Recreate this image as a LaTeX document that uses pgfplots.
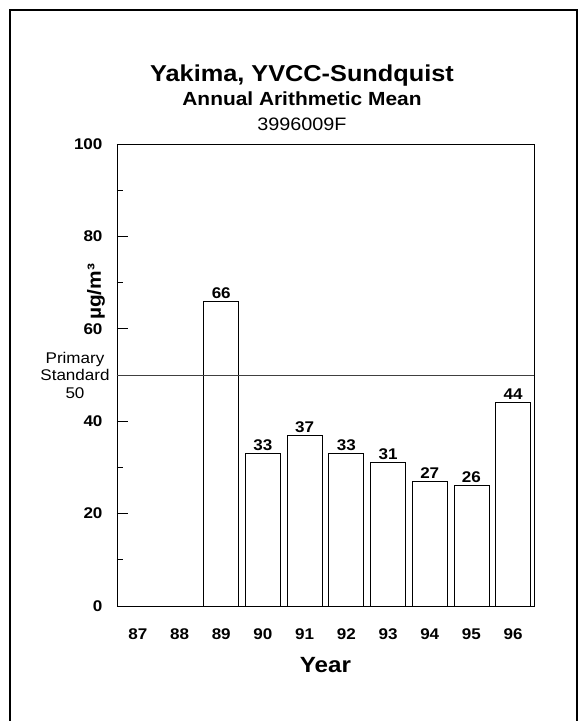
\documentclass[border=0pt]{standalone}
\usepackage{fontspec}
\setmainfont{Liberation Sans}[FakeStretch=1.1]
\usepackage{pgfplots}
\pgfplotsset{compat=1.18}

\newcommand{\fs}[1]{\fontsize{#1}{#1}\selectfont}

\begin{document}
\begin{tikzpicture}[x=1pt,y=1pt]
\useasboundingbox (0,0) rectangle (585,721);
% outer frame, open at the bottom
\draw[line width=2pt] (10,0) -- (10,711) -- (577,711) -- (577,0);

% titles
\node[anchor=base] at (302,639) {\fs{23}\bfseries Yakima, YVCC-Sundquist};
\node[anchor=base] at (302,615) {\fs{19}\bfseries Annual Arithmetic Mean};
\node[anchor=base] at (302,590) {\fs{18}3996009F};

\begin{axis}[
    at={(117pt,115pt)}, anchor=south west,
    scale only axis,
    width=417pt, height=462pt,
    xmin=86.5, xmax=96.5,
    ymin=0, ymax=100,
    axis line style={line width=0.9pt},
    xtick={87,...,96},
    xtick style={draw=none},
    ytick={0,20,...,100},
    minor ytick={10,30,...,90},
    ytick pos=left,
    tick align=inside,
    major tick length=11pt,
    minor tick length=6pt,
    tick style={black, line width=0.8pt},
    /pgf/number format/assume math mode=true,
    ticklabel style={font=\fs{15.5}\bfseries},
    xticklabel style={yshift=-8pt},
    yticklabel style={xshift=-11pt},
    xlabel={Year},
    ylabel={µg/m³},
    every axis x label/.style={at={(axis description cs:0.5,0)}, anchor=base, yshift=-66pt, font=\fs{22}\bfseries},
    every axis y label/.style={at={(axis description cs:0,0.68)}, anchor=center, rotate=90, yshift=21pt, font=\fs{19}\bfseries},
    clip=false,
    ybar, bar width=35pt,
    nodes near coords,
    every node near coord/.append style={font=\fs{15.5}\bfseries, anchor=south, yshift=-1pt},
]
\addplot[draw=black, fill=white, line width=0.8pt] coordinates {
    (89,66) (90,33) (91,37) (92,33) (93,31) (94,27) (95,26) (96,44)
};
\draw[black!75, line width=0.8pt] (axis cs:86.5,50) -- (axis cs:96.5,50);
\node[align=center, font=\fs{15.5}, xshift=-42pt] at (axis cs:86.5,50) {Primary\\[2pt]Standard\\[2pt]50};
\end{axis}
\end{tikzpicture}
\end{document}
